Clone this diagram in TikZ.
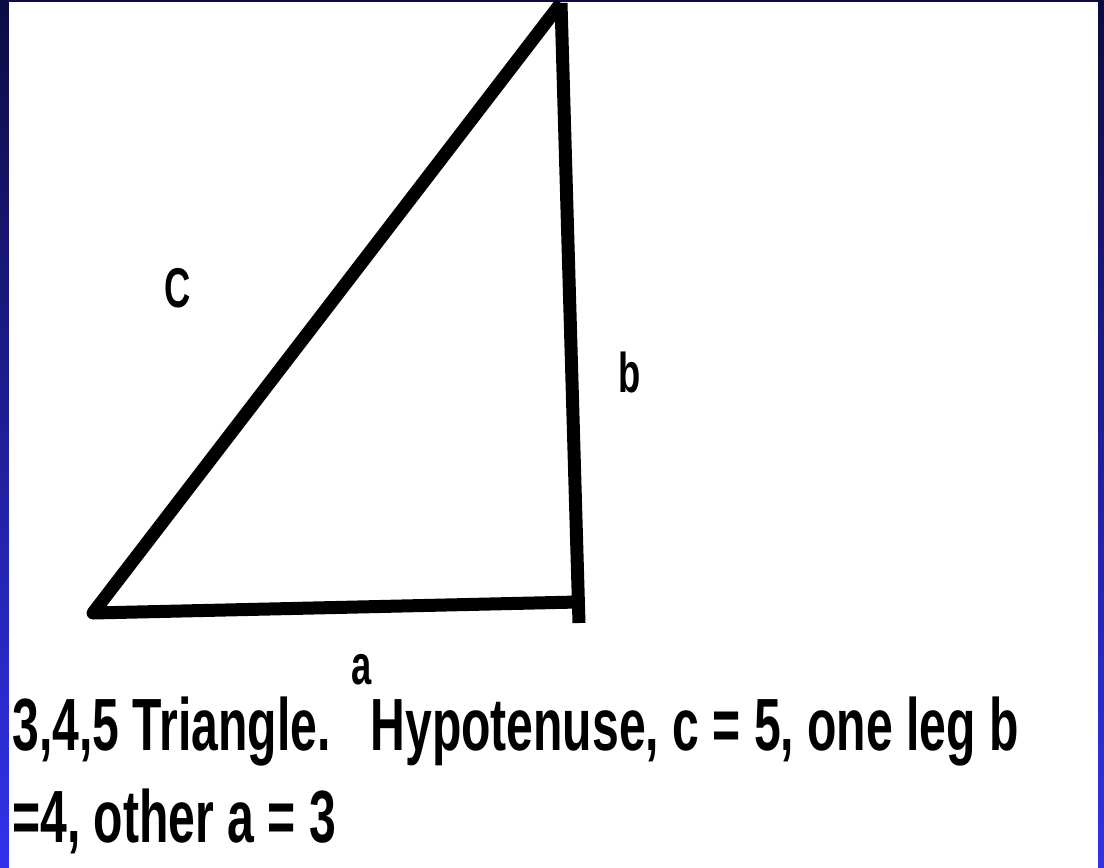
\documentclass[tikz,border=0pt]{standalone}
\usepackage{fontspec}
\setmainfont{Liberation Sans}[FakeStretch=0.65]
\usetikzlibrary{positioning}
\definecolor{frametop}{RGB}{12,12,66}
\definecolor{framebot}{RGB}{50,50,236}

\begin{document}
\begin{tikzpicture}[x=0.5pt, y=-0.5pt, every node/.style={inner sep=0pt, font=\bfseries}, side/.style={line width=6.5pt, line join=round, line cap=butt}, lbl/.style={font=\fontsize{28}{30}\selectfont\bfseries}, caption/.style={anchor=base west, font=\fontsize{37}{40}\selectfont\bfseries}]
\useasboundingbox (0,0) rectangle (1104,868);
\shade[top color=frametop, bottom color=framebot] (0,0) rectangle (1104,868);
\fill[white] (9,2) rectangle (1098,868);
% triangle corners
\coordinate (top) at (561,3);
\coordinate (left) at (93,613);
\coordinate (right) at (578,602);
\coordinate (foot) at (579,623);
\draw[side] (top) -- (left) -- (right);
\draw[side] (top) -- (foot);
% side labels
\node[lbl] (lc) at (178,288) {C};
\node[lbl] (lb) at (630,372) {b};
\node[lbl] (la) at (362,670) {a};
% caption
\node[caption] (line1) at (12,750) {3,4,5 Triangle.\hspace{20pt}Hypotenuse, c = 5, one leg b};
\node[caption] (line2) at (12,842) {=4, other a = 3};
\end{tikzpicture}
\end{document}
